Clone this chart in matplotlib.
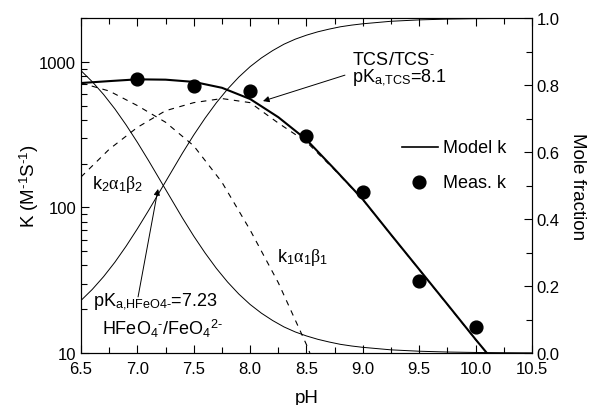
import matplotlib
matplotlib.use("Agg")
import matplotlib.pyplot as plt
from matplotlib.ticker import FixedLocator, MultipleLocator, NullFormatter, FixedFormatter
from matplotlib.lines import Line2D

plt.rcParams['font.family'] = ['Liberation Sans', 'DejaVu Sans']
plt.rcParams['mathtext.fontset'] = 'custom'
plt.rcParams['mathtext.rm'] = 'Liberation Sans'
plt.rcParams['mathtext.it'] = 'Liberation Serif'
plt.rcParams['mathtext.bf'] = 'Liberation Sans:bold'

# ---------------- data ----------------
ph_model = [6.5, 6.75, 7.0, 7.25, 7.5, 7.75, 8.0, 8.25, 8.5, 8.75, 9.0, 9.25, 9.5, 9.75, 10.0, 10.1]
k_model = [716, 738, 759, 755, 729, 664, 556, 417, 292, 183, 113.5, 65, 37.5, 21.6, 12.4, 10]

ph_meas = [7.0, 7.5, 8.0, 8.5, 9.0, 9.5, 10.0]
k_meas = [764, 679, 628, 312, 127, 31.4, 15.1]

ph_k1 = [6.5, 6.75, 7.0, 7.25, 7.5, 7.75, 8.0, 8.25, 8.5, 8.53]
k1_term = [716, 631, 501, 385, 265, 149, 70, 30.4, 11.4, 10]

ph_k2 = [6.5, 6.75, 7.0, 7.25, 7.5, 7.75, 8.0, 8.25, 8.5, 8.75, 9.0, 9.25, 9.5, 9.75, 10.0, 10.1]
k2_term = [162, 251, 355, 462, 525, 560, 525, 380, 282, 181, 113, 64.8, 37.4, 21.5, 12.35, 10]

ph_frac = [6.5, 6.6, 6.7, 6.8, 6.9, 7.0, 7.1, 7.2, 7.3, 7.4, 7.5, 7.6, 7.7, 7.8, 7.9,
           8.0, 8.1, 8.2, 8.3, 8.4, 8.5, 8.6, 8.7, 8.8, 8.9, 9.0, 9.25, 9.5, 9.75,
           10.0, 10.25, 10.5]
frac_hfeo4 = [0.843, 0.810, 0.772, 0.729, 0.681, 0.629, 0.574, 0.517, 0.460, 0.403,
              0.349, 0.299, 0.253, 0.212, 0.176, 0.145, 0.119, 0.097, 0.078, 0.063,
              0.051, 0.041, 0.033, 0.026, 0.021, 0.017, 0.0095, 0.0054, 0.003,
              0.0017, 0.001, 0.0005]
frac_feo4 = [0.157, 0.190, 0.228, 0.271, 0.319, 0.371, 0.426, 0.483, 0.540, 0.597,
             0.651, 0.701, 0.747, 0.788, 0.824, 0.855, 0.881, 0.903, 0.922, 0.937,
             0.949, 0.959, 0.967, 0.974, 0.979, 0.983, 0.9905, 0.9946, 0.997,
             0.9983, 0.999, 0.9995]

x_ticks = [6.5, 7.0, 7.5, 8.0, 8.5, 9.0, 9.5, 10.0, 10.5]
x_ticklabels = ['6.5', '7.0', '7.5', '8.0', '8.5', '9.0', '9.5', '10.0', '10.5']
y_ticks = [10, 100, 1000]
y_ticklabels = ['10', '100', '1000']
y2_ticks = [0.0, 0.2, 0.4, 0.6, 0.8, 1.0]
y2_ticklabels = ['0.0', '0.2', '0.4', '0.6', '0.8', '1.0']

HY = '\u2010'  # short hyphen used as superscript minus in the reference

# ---------------- figure ----------------
fig = plt.figure(figsize=(5.97, 4.06), dpi=100)
ax = fig.add_axes([0.1357, 0.128, 0.7554, 0.825])
ax2 = ax.twinx()

TL = 12
ax.plot(ph_model, k_model, color='black', lw=1.5, zorder=4)
ax.plot(ph_k1, k1_term, color='black', lw=0.8, ls=(0, (5, 5)), zorder=3)
ax.plot(ph_k2, k2_term, color='black', lw=0.8, ls=(0, (5, 5)), zorder=3)
ax.plot(ph_meas, k_meas, 'o', color='black', ms=9.2, zorder=5)

ax2.plot(ph_frac, frac_hfeo4, color='black', lw=0.7)
ax2.plot(ph_frac, frac_feo4, color='black', lw=0.7)

ax.set_yscale('log')
ax.set_xlim(6.5, 10.5)
ax.set_ylim(10, 2000)
ax2.set_ylim(0, 1.0)

ax.xaxis.set_major_locator(FixedLocator(x_ticks))
ax.xaxis.set_major_formatter(FixedFormatter(x_ticklabels))
ax.xaxis.set_minor_locator(MultipleLocator(0.25))
ax.yaxis.set_major_locator(FixedLocator(y_ticks))
ax.yaxis.set_major_formatter(FixedFormatter(y_ticklabels))
minor_y = [m * d for d in (10, 100, 1000) for m in range(2, 10)]
ax.yaxis.set_minor_locator(FixedLocator(minor_y))
ax.yaxis.set_minor_formatter(NullFormatter())
ax2.yaxis.set_major_locator(FixedLocator(y2_ticks))
ax2.yaxis.set_major_formatter(FixedFormatter(y2_ticklabels))
ax2.yaxis.set_minor_locator(MultipleLocator(0.1))

ax.tick_params(axis='both', which='both', direction='in', top=True, labelsize=TL, width=0.8)
ax.tick_params(axis='both', which='major', length=6)
ax.tick_params(axis='both', which='minor', length=4)
ax.tick_params(axis='y', which='both', right=False)
ax.tick_params(axis='x', pad=6)
ax2.tick_params(axis='y', which='both', direction='in', labelsize=TL, width=0.8)
ax2.tick_params(axis='y', which='major', length=6)
ax2.tick_params(axis='y', which='minor', length=4)

for a in (ax, ax2):
    for s in a.spines.values():
        s.set_linewidth(0.8)

ax.set_xlabel('pH', fontsize=13.5, labelpad=9)
ax.set_ylabel('K (M$^{' + HY + '1}$S$^{' + HY + '1}$)', fontsize=13.5, labelpad=-1)
ax2.set_ylabel('Mole fraction', fontsize=13.5, rotation=270, labelpad=19)

# ---------------- annotations ----------------
FS = 13
ax.text(0.601, 0.863, 'TCS/TCS$^{' + HY + '}$', transform=ax.transAxes, fontsize=FS, va='baseline')
ax.text(0.601, 0.812, 'pK$_{\\mathrm{a{,}TCS}}$=8.1', transform=ax.transAxes, fontsize=FS, va='baseline')
ax.annotate('', xy=(8.114, 538), xytext=(8.841, 811),
            arrowprops=dict(arrowstyle='-|>', lw=0.7, color='black', mutation_scale=9,
                            shrinkA=0, shrinkB=0))

ax.text(0.024, 0.493, 'k$_2\\alpha_1\\beta_2$', transform=ax.transAxes, fontsize=FS, va='baseline')
ax.text(0.435, 0.275, 'k$_1\\alpha_1\\beta_1$', transform=ax.transAxes, fontsize=FS, va='baseline')

ax.text(0.027, 0.143, 'pK$_{\\mathrm{a{,}HFeO4' + HY + '}}$=7.23', transform=ax.transAxes,
        fontsize=FS, va='baseline')
ax.text(0.047, 0.057, 'HFeO$_4$$^{' + HY + '}$/FeO$_4$$^{2' + HY + '}$', transform=ax.transAxes,
        fontsize=FS, va='baseline')
ax.annotate('', xy=(7.183, 134), xytext=(7.006, 24.3),
            arrowprops=dict(arrowstyle='-|>', lw=0.7, color='black', mutation_scale=9,
                            shrinkA=0, shrinkB=0))

# legend drawn manually
ax.add_line(Line2D([0.712, 0.792], [0.615, 0.615], transform=ax.transAxes, color='black', lw=1.2))
ax.text(0.803, 0.615, 'Model k', transform=ax.transAxes, fontsize=FS, va='center')
ax.plot([0.749], [0.510], 'o', color='black', ms=9.2, transform=ax.transAxes, clip_on=False)
ax.text(0.803, 0.510, 'Meas. k', transform=ax.transAxes, fontsize=FS, va='center')

fig.savefig('out.png', dpi=100)
